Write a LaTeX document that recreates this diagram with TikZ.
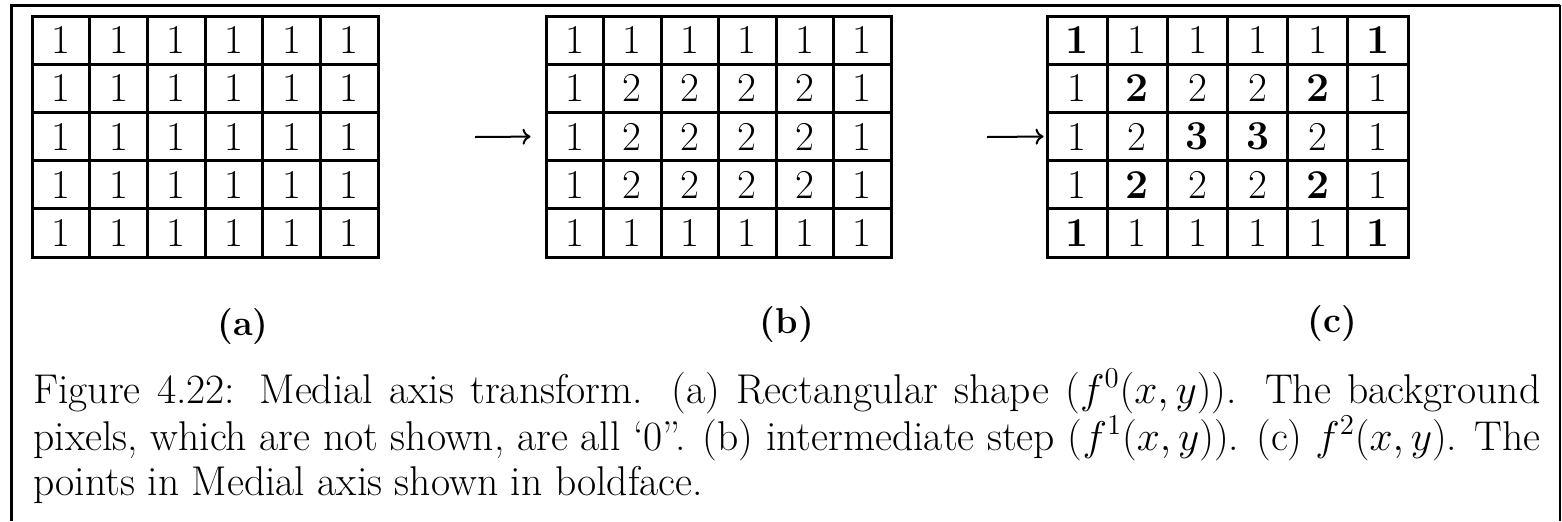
\documentclass[tikz,border=0pt]{standalone}
\usetikzlibrary{arrows.meta}
\tikzset{
  cell/.style={draw, line width=1.5pt, inner sep=0pt, minimum height=24.1pt,
               font=\fontsize{20.5}{24}\selectfont},
  frame/.style={line width=1.5pt},
  arr/.style={line width=1pt, -{Computer Modern Rightarrow[length=4pt,width=8pt]}},
  lab/.style={inner sep=0pt, font=\fontsize{18}{22}\selectfont\bfseries},
  capline/.style={inner sep=0pt, anchor=base west, font=\fontsize{20.8}{25}\selectfont}
}
\newcommand{\gridrow}[5]{% #1 prefix, #2 row, #3 x0, #4 cell width (px), #5 list
  \foreach \v [count=\c] in {#5} {
    \node[cell, minimum width=#4*0.5pt] (#1-#2-\c)
      at ({#3+(\c-0.5)*#4}, {16+(#2-0.5)*48.2}) {\v};
  }}
\begin{document}
\begin{tikzpicture}[x=0.5pt, y=-0.5pt]
\useasboundingbox (0,0) rectangle (1562,521);
% outer frame
\draw[frame] (11,521) -- (11,5) -- (1560,5);
\draw[line width=1.1pt] (1560,5) -- (1560,521);

% grid (a)
\foreach \r in {1,...,5} {\gridrow{a}{\r}{32}{57.67}{1,1,1,1,1,1}}
% grid (b)
\gridrow{b}{1}{546}{57.5}{1,1,1,1,1,1}
\gridrow{b}{2}{546}{57.5}{1,2,2,2,2,1}
\gridrow{b}{3}{546}{57.5}{1,2,2,2,2,1}
\gridrow{b}{4}{546}{57.5}{1,2,2,2,2,1}
\gridrow{b}{5}{546}{57.5}{1,1,1,1,1,1}
% grid (c)
\gridrow{c}{1}{1047}{60.17}{\textbf{1},1,1,1,1,\textbf{1}}
\gridrow{c}{2}{1047}{60.17}{1,\textbf{2},2,2,\textbf{2},1}
\gridrow{c}{3}{1047}{60.17}{1,2,\textbf{3},\textbf{3},2,1}
\gridrow{c}{4}{1047}{60.17}{1,\textbf{2},2,2,\textbf{2},1}
\gridrow{c}{5}{1047}{60.17}{\textbf{1},1,1,1,1,\textbf{1}}

% arrows
\coordinate (tb) at (475,137);
\coordinate (tc) at (987,137);
\draw[arr, shorten >=7pt] (tb) -- (b-3-1.west);
\draw[arr, shorten >=1pt] (tc) -- (c-3-1.west);

% sub-labels
\node[lab] (la) at (243,327) {(a)};
\node[lab] (lb) at (787,325) {(b)};
\node[lab] (lc) at (1332,324) {(c)};

% caption
\node[capline] (cap1) at (33,403) {\makebox[753.5pt][s]{Figure 4.22: Medial axis transform. (a) Rectangular shape ($f^0(x,y)$). The background}};
\node[capline] (cap2) at (33,450) {\makebox[753.5pt][s]{pixels, which are not shown, are all `0''. (b) intermediate step ($f^1(x,y)$). (c) $f^2(x,y)$. The}};
\node[capline] (cap3) at (33,495) {points in Medial axis shown in boldface.};
\end{tikzpicture}
\end{document}
